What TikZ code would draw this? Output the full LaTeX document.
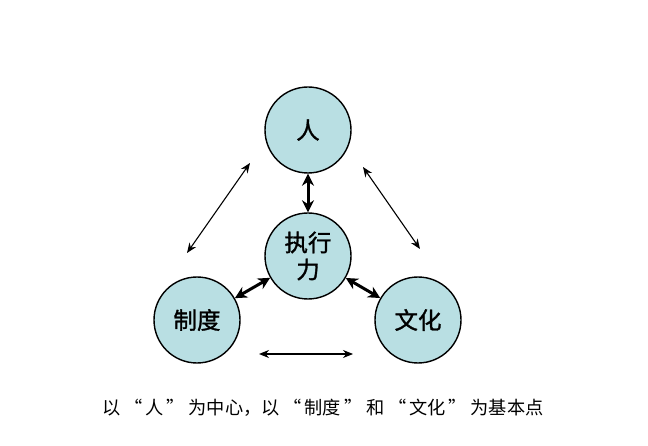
\documentclass[tikz,border=0pt]{standalone}
\usepackage{fontspec}
\newfontfamily\cjk{Noto Sans CJK SC}
\newfontfamily\cjkb[FakeBold=1.3]{Noto Sans CJK SC}
\usetikzlibrary{arrows.meta}
\definecolor{circfill}{RGB}{185,223,227}
\newcommand\openq{\makebox[25pt][r]{“\hspace{3pt}}}
\newcommand\closeq{\makebox[25pt][l]{\hspace{3pt}”}}

\begin{document}
\begin{tikzpicture}[x=1pt, y=-1pt, inner sep=2pt,
            every node/.style={font=\cjk},
            unit/.style={draw, line width=1.4pt, circle, fill=circfill, minimum size=86pt, font=\cjkb\fontsize{23.5}{27}\selectfont, align=center}]
            \useasboundingbox (0,0) rectangle (648,446);
            \node[unit](ren) at (308, 130) {人};
            \node[unit](zhixing) at (308, 256) {执行\\力};
            \node[unit](zhidu) at (197, 320) {制度};
            \node[unit](wenhua) at (418, 320) {文化};
            \coordinate (a1) at (250, 163);
            \coordinate (a2) at (187, 253);
            \coordinate (b1) at (363, 167);
            \coordinate (b2) at (420, 249);
            \coordinate (c1) at (259, 354);
            \coordinate (c2) at (353, 354);
            \node(caption) at (323, 408) {\fontsize{18.2}{20}\selectfont 以\openq 人\closeq 为中心，以\openq 制度\closeq 和\openq 文化\closeq 为基本点};

            \begin{scope}[{Stealth[length=10pt, width=8pt]}-{Stealth[length=10pt, width=8pt]}, line width=1.1pt]
                \draw(a1)--(a2);
                \draw(b1)--(b2);
                \draw(c1)--(c2);
            \end{scope}
            \begin{scope}[{Stealth[length=12pt, width=12pt]}-{Stealth[length=12pt, width=12pt]}, line width=3pt]
                \draw(ren)--(zhixing);
                \draw(zhixing)--(zhidu);
                \draw(zhixing)--(wenhua);
            \end{scope}
        \end{tikzpicture}
\end{document}
